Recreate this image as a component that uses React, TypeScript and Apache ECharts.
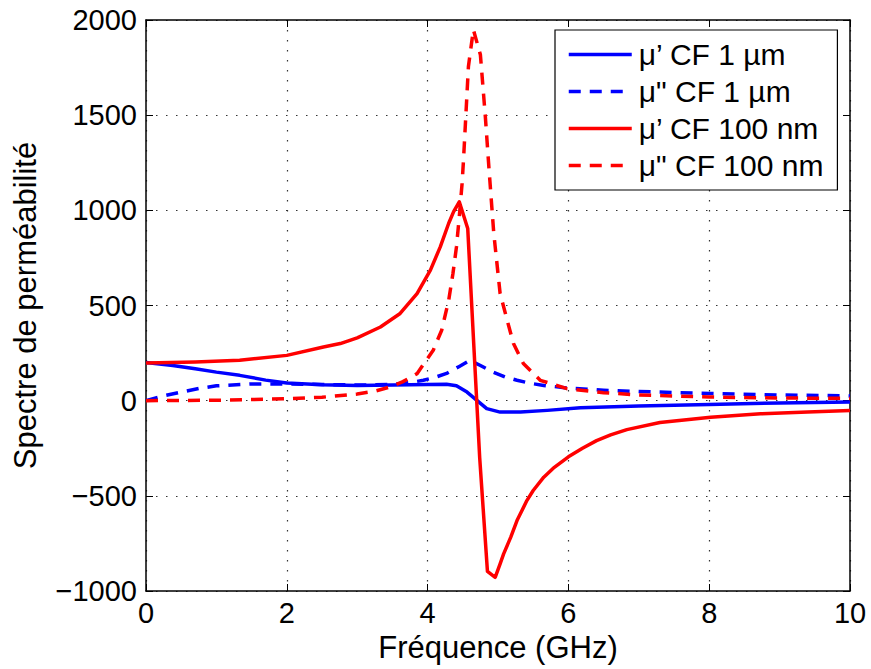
import React, { useEffect, useRef } from "react";
import * as echarts from "echarts";

// μ' CF 1 µm (blue solid)
const f1Real = [0, 0.38, 0.7, 1, 1.33, 1.7, 2, 2.5, 3, 3.5, 4, 4.27, 4.41, 4.56, 4.7, 4.84, 5.03, 5.32, 5.7, 6.17, 7, 8, 9, 10];
const mu1Real = [200, 185, 168, 150, 133, 108, 93, 83, 80, 82, 85, 86, 78, 45, 2, -42, -60, -60, -51, -37, -28, -20, -12, -7];

// μ" CF 1 µm (blue dashed)
const f1Imag = [0, 0.25, 0.5, 0.75, 1, 1.5, 2, 2.5, 3, 3.5, 3.75, 3.94, 4.1, 4.27, 4.45, 4.6, 4.75, 4.93, 5.1, 5.27, 5.45, 5.65, 6.03, 6.5, 7, 8, 9, 10];
const mu1Imag = [0, 25, 45, 64, 78, 88, 88, 85, 82, 85, 95, 107, 122, 143, 180, 212, 185, 150, 125, 107, 92, 80, 65, 55, 48, 38, 30, 25];

// μ' CF 100 nm (red solid)
const f2Real = [0, 0.7, 1.33, 2, 2.52, 2.76, 3.0, 3.33, 3.61, 3.85, 4.04, 4.18, 4.3, 4.37, 4.45, 4.57, 4.66, 4.74, 4.85, 4.96, 5.03, 5.08, 5.18, 5.27, 5.41, 5.5, 5.65, 5.8, 6.0, 6.2, 6.4, 6.6, 6.83, 7.3, 8.02, 8.73, 9.4, 10];
const mu2Real = [198, 203, 212, 238, 282, 300, 330, 387, 458, 563, 686, 808, 932, 993, 1045, 905, 265, -300, -897, -928, -858, -805, -718, -630, -525, -472, -402, -350, -295, -250, -210, -180, -152, -115, -87, -69, -59, -52];

// μ" CF 100 nm (red dashed)
const f2Imag = [0, 1, 2, 2.5, 3, 3.25, 3.47, 3.65, 3.85, 4.08, 4.2, 4.3, 4.36, 4.41, 4.45, 4.49, 4.51, 4.58, 4.65, 4.75, 4.82, 4.87, 4.94, 5.03, 5.13, 5.22, 5.36, 5.6, 5.98, 6.5, 7, 8, 9, 10];
const mu2Imag = [0, 2, 10, 18, 35, 50, 72, 100, 142, 265, 370, 528, 668, 808, 966, 1142, 1265, 1756, 1949, 1817, 1493, 1229, 879, 563, 423, 300, 195, 107, 63, 42, 30, 19, 14, 12];

const seriesNames = ["μ’ CF 1 µm", "μ\" CF 1 µm", "μ’ CF 100 nm", "μ\" CF 100 nm"];

const pairs = (xs: number[], ys: number[]) => xs.map((x, i) => [x, ys[i]]);

const FONT = "'Liberation Sans', Arial, Helvetica, sans-serif";

export default function App() {
  const ref = useRef<HTMLDivElement>(null);
  useEffect(() => {
    if (!ref.current) return;
    const chart = echarts.init(ref.current, undefined, { renderer: "svg" });
    const axisLine = { show: true, onZero: false, lineStyle: { color: "#000", width: 1.5 } };
    const tick = { show: true, inside: true, length: 7, lineStyle: { color: "#000", width: 1 } };
    const split = { show: true, lineStyle: { color: "#333", type: [1.5, 8.5] as any, width: 1.2 } };
    const mk = (name: string, data: number[][], color: string, dashed: boolean) => ({
      type: "line",
      name,
      data,
      symbol: "none",
      showSymbol: false,
      smooth: false,
      lineStyle: { color, width: 3.5, type: dashed ? ([12, 9] as any) : "solid", cap: "butt", join: "round" },
      itemStyle: { color },
      z: 3,
    });
    chart.setOption({
      animation: false,
      backgroundColor: "#fff",
      textStyle: { fontFamily: FONT, color: "#000" },
      grid: { left: 146, right: 21, top: 20, bottom: 78, containLabel: false },
      legend: {
        orient: "vertical",
        left: 555,
        top: 30,
        padding: [9, 14, 9, 12],
        itemWidth: 63,
        itemHeight: 14,
        itemGap: 6,
        borderColor: "#000",
        borderWidth: 1.2,
        backgroundColor: "#fff",
        itemStyle: { opacity: 0 },
        lineStyle: { width: 3.5 },
        textStyle: { fontFamily: FONT, fontSize: 30, color: "#000", lineHeight: 31, padding: [0, 0, 0, 2] },
        data: seriesNames,
      },
      xAxis: [
        {
          type: "value",
          min: 0,
          max: 10,
          interval: 2,
          name: "Fréquence (GHz)",
          nameLocation: "middle",
          nameGap: 30,
          nameTextStyle: { fontFamily: FONT, fontSize: 31, color: "#000" },
          axisLine,
          axisTick: tick,
          axisLabel: { fontFamily: FONT, fontSize: 29, color: "#000", margin: 7 },
          splitLine: split,
        },
        {
          type: "value",
          position: "top",
          min: 0,
          max: 10,
          interval: 2,
          axisLine,
          axisTick: tick,
          axisLabel: { show: false },
          splitLine: { show: false },
        },
      ],
      yAxis: [
        {
          type: "value",
          min: -1000,
          max: 2000,
          interval: 500,
          name: "Spectre de perméabilité",
          nameLocation: "middle",
          nameRotate: 90,
          nameGap: 105,
          nameTextStyle: { fontFamily: FONT, fontSize: 31, color: "#000" },
          axisLine,
          axisTick: tick,
          axisLabel: {
            fontFamily: FONT,
            fontSize: 29,
            color: "#000",
            margin: 9,
            formatter: (v: number) => (v < 0 ? "−" + Math.abs(v) : String(v)),
          },
          splitLine: split,
        },
        {
          type: "value",
          position: "right",
          min: -1000,
          max: 2000,
          interval: 500,
          axisLine,
          axisTick: tick,
          axisLabel: { show: false },
          splitLine: { show: false },
        },
      ],
      series: [
        mk(seriesNames[0], pairs(f1Real, mu1Real), "#0000ff", false),
        mk(seriesNames[1], pairs(f1Imag, mu1Imag), "#0000ff", true),
        mk(seriesNames[2], pairs(f2Real, mu2Real), "#ff0000", false),
        mk(seriesNames[3], pairs(f2Imag, mu2Imag), "#ff0000", true),
      ],
    });
    return () => chart.dispose();
  }, []);
  return (
    <div
      ref={ref}
      style={{ position: "absolute", left: 0, top: 0, width: 871, height: 669, background: "#fff" }}
    />
  );
}
